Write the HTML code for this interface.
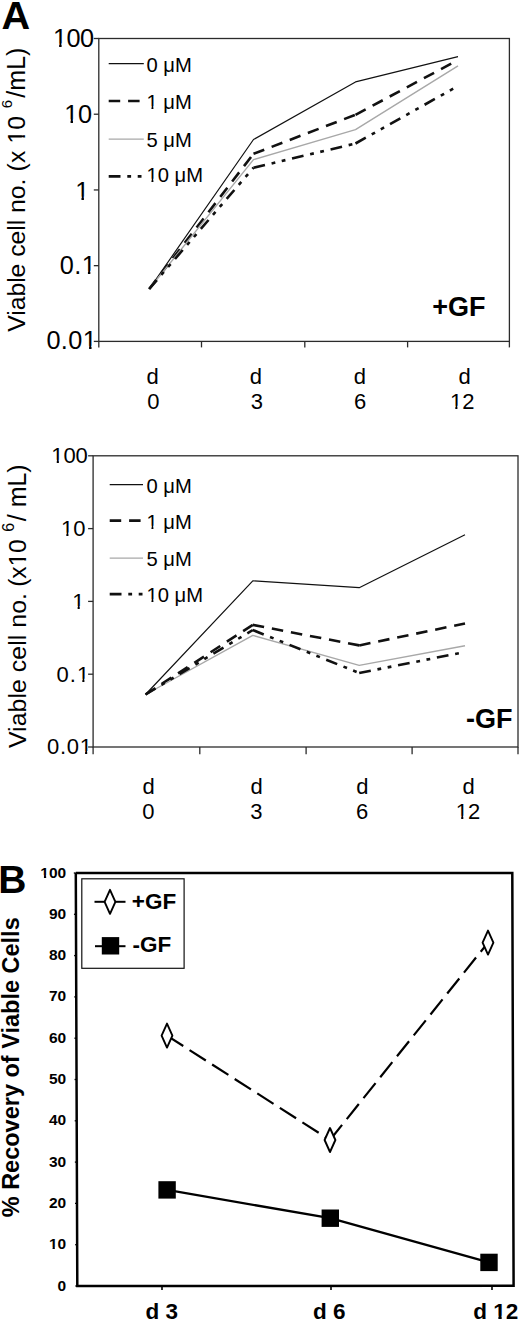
<!DOCTYPE html><html><head><meta charset="utf-8"><style>html,body{margin:0;padding:0;background:#fff;}svg{display:block;}</style></head><body><svg width="520" height="1322" viewBox="0 0 520 1322" font-family='"Liberation Sans", sans-serif'>
<rect width="520" height="1322" fill="#fff"/>
<text x="1.41" y="28.69" font-size="39.7" text-anchor="start" font-weight="bold" fill="#000" >A</text>
<rect x="98.8" y="38.5" width="410.6" height="302.9" fill="none" stroke="#2b2b2b" stroke-width="1.3"/>
<line x1="93.8" y1="38.5" x2="98.8" y2="38.5" stroke="#2b2b2b" stroke-width="1.3" />
<clipPath id="c1"><path clip-rule="evenodd" d="M-2000,-2000H3000V3000H-2000Z M52.9,43.15H59.15V47.46H52.9Z M61.57,43.15H66.96V47.46H61.57Z"/></clipPath>
<text x="52.9" y="46.7" font-size="25.3" text-anchor="start" letter-spacing="-0.47" fill="#000" clip-path="url(#c1)" >100</text>
<line x1="93.8" y1="114.22" x2="98.8" y2="114.22" stroke="#2b2b2b" stroke-width="1.3" />
<clipPath id="c2"><path clip-rule="evenodd" d="M-2000,-2000H3000V3000H-2000Z M64.3,119.25H70.55V123.56H64.3Z M72.97,119.25H78.36V123.56H72.97Z"/></clipPath>
<text x="64.3" y="122.8" font-size="25.3" text-anchor="start" letter-spacing="-0.43" fill="#000" clip-path="url(#c2)" >10</text>
<line x1="93.8" y1="189.95" x2="98.8" y2="189.95" stroke="#2b2b2b" stroke-width="1.3" />
<clipPath id="c3"><path clip-rule="evenodd" d="M-2000,-2000H3000V3000H-2000Z M75.23,196.45H81.48V200.76H75.23Z M83.91,196.45H89.3V200.76H83.91Z"/></clipPath>
<text x="75.23" y="200" font-size="25.3" text-anchor="start" fill="#000" clip-path="url(#c3)" >1</text>
<line x1="93.8" y1="265.67" x2="98.8" y2="265.67" stroke="#2b2b2b" stroke-width="1.3" />
<clipPath id="c4"><path clip-rule="evenodd" d="M-2000,-2000H3000V3000H-2000Z M81.67,270.85H87.92V275.16H81.67Z M90.35,270.85H95.74V275.16H90.35Z"/></clipPath>
<text x="59.69" y="274.4" font-size="25.3" text-anchor="start" letter-spacing="0.44" fill="#000" clip-path="url(#c4)" >0.1</text>
<line x1="93.8" y1="341.4" x2="98.8" y2="341.4" stroke="#2b2b2b" stroke-width="1.3" />
<clipPath id="c5"><path clip-rule="evenodd" d="M-2000,-2000H3000V3000H-2000Z M82.84,345.85H89.09V350.16H82.84Z M91.52,345.85H96.91V350.16H91.52Z"/></clipPath>
<text x="46.39" y="349.4" font-size="25.3" text-anchor="start" letter-spacing="0.43" fill="#000" clip-path="url(#c5)" >0.01</text>
<line x1="98.8" y1="341.4" x2="98.8" y2="347.4" stroke="#2b2b2b" stroke-width="1.3" />
<line x1="201.5" y1="341.4" x2="201.5" y2="347.4" stroke="#2b2b2b" stroke-width="1.3" />
<line x1="304.8" y1="341.4" x2="304.8" y2="347.4" stroke="#2b2b2b" stroke-width="1.3" />
<line x1="407.6" y1="341.4" x2="407.6" y2="347.4" stroke="#2b2b2b" stroke-width="1.3" />
<line x1="509.4" y1="341.4" x2="509.4" y2="347.4" stroke="#2b2b2b" stroke-width="1.3" />
<polyline points="149.2,289 253.5,139.5 355.5,81.9 458,56.6" fill="none" stroke="#111" stroke-width="1.2" stroke-linecap="butt" stroke-linejoin="round"/>
<line x1="149.2" y1="289" x2="253.5" y2="153.8" stroke="#111" stroke-width="2.6" stroke-linecap="butt" stroke-dasharray="11.5 7.9"/>
<line x1="253.5" y1="153.8" x2="355.5" y2="114.8" stroke="#111" stroke-width="2.6" stroke-linecap="butt" stroke-dasharray="11.5 7.9"/>
<line x1="355.5" y1="114.8" x2="458" y2="60" stroke="#111" stroke-width="2.6" stroke-linecap="butt" stroke-dasharray="11.5 7.9"/>
<polyline points="149.2,289 253.5,159.6 355.5,129.7 458,65.9" fill="none" stroke="#a8a8a8" stroke-width="1.4" stroke-linecap="butt" stroke-linejoin="round"/>
<line x1="149.2" y1="289" x2="253.5" y2="167.7" stroke="#111" stroke-width="2.6" stroke-linecap="butt" stroke-dasharray="11.8 6.8 3.8 6.6 3.8 6.8"/>
<line x1="253.5" y1="167.7" x2="355.5" y2="143.5" stroke="#111" stroke-width="2.6" stroke-linecap="butt" stroke-dasharray="11.8 6.8 3.8 6.6 3.8 6.8"/>
<line x1="355.5" y1="143.5" x2="458" y2="86" stroke="#111" stroke-width="2.6" stroke-linecap="butt" stroke-dasharray="11.8 6.8 3.8 6.6 3.8 6.8"/>
<polyline points="108.7,63.7 143.8,63.7" fill="none" stroke="#111" stroke-width="1.2" stroke-linecap="butt" stroke-linejoin="round"/>
<text x="146.5" y="72" font-size="20.2" text-anchor="start" fill="#000" >0 &#956;M</text>
<line x1="108.7" y1="101" x2="143.8" y2="101" stroke="#111" stroke-width="2.6" stroke-linecap="butt" stroke-dasharray="11.5 7.9"/>
<clipPath id="c6"><path clip-rule="evenodd" d="M-2000,-2000H3000V3000H-2000Z M146.5,106.17H151.49V109.61H146.5Z M153.43,106.17H157.73V109.61H153.43Z"/></clipPath>
<text x="146.5" y="109" font-size="20.2" text-anchor="start" fill="#000" clip-path="url(#c6)" >1 &#956;M</text>
<polyline points="108.7,139.1 143.8,139.1" fill="none" stroke="#a8a8a8" stroke-width="1.4" stroke-linecap="butt" stroke-linejoin="round"/>
<text x="146.5" y="147.4" font-size="20.2" text-anchor="start" fill="#000" >5 &#956;M</text>
<line x1="108.7" y1="176.4" x2="143.8" y2="176.4" stroke="#111" stroke-width="2.6" stroke-linecap="butt" stroke-dasharray="11.8 6.8 3.8 6.6 3.8 6.8"/>
<clipPath id="c7"><path clip-rule="evenodd" d="M-2000,-2000H3000V3000H-2000Z M146.5,178.87H151.49V182.31H146.5Z M153.43,178.87H157.73V182.31H153.43Z"/></clipPath>
<text x="146.5" y="181.7" font-size="20.2" text-anchor="start" fill="#000" clip-path="url(#c7)" >10 &#956;M</text>
<text x="146.62" y="383.85" font-size="22" text-anchor="start" fill="#000" >d</text>
<text x="147.32" y="408.75" font-size="22" text-anchor="start" fill="#000" >0</text>
<text x="249.87" y="383.85" font-size="22" text-anchor="start" fill="#000" >d</text>
<text x="250.85" y="408.75" font-size="22" text-anchor="start" fill="#000" >3</text>
<text x="353.81" y="383.85" font-size="22" text-anchor="start" fill="#000" >d</text>
<text x="354.01" y="408.75" font-size="22" text-anchor="start" fill="#000" >6</text>
<text x="458.62" y="383.85" font-size="22" text-anchor="start" fill="#000" >d</text>
<clipPath id="c8"><path clip-rule="evenodd" d="M-2000,-2000H3000V3000H-2000Z M449.9,405.67H455.33V409.41H449.9Z M457.44,405.67H462.13V409.41H457.44Z"/></clipPath>
<text x="449.9" y="408.75" font-size="22" text-anchor="start" fill="#000" clip-path="url(#c8)" >12</text>
<text x="432.19" y="315.73" font-size="27" text-anchor="start" font-weight="bold" fill="#000" >+GF</text>
<text transform="rotate(-90)" x="-331.82" y="25.3" font-size="24.8" letter-spacing="-0.06" fill="#000">Viable cell no.</text>
<clipPath id="c9"><path clip-rule="evenodd" d="M-2000,-2000H3000V3000H-2000Z M-143.7,21.83H-137.58V26.04H-143.7Z M-135.2,21.83H-129.92V26.04H-135.2Z"/></clipPath>
<text transform="rotate(-90)" x="-171.45" y="25.3" font-size="24.8" letter-spacing="0.07" fill="#000" clip-path="url(#c9)">(x 10</text>
<text transform="rotate(-90)" x="-108.19" y="11.7" font-size="15" fill="#000">6</text>
<text transform="rotate(-90)" x="-97.64" y="25.3" font-size="25" fill="#000">/mL)</text>
<rect x="93.1" y="455.8" width="424.9" height="291.2" fill="none" stroke="#2b2b2b" stroke-width="1.3"/>
<line x1="88.1" y1="455.8" x2="93.1" y2="455.8" stroke="#2b2b2b" stroke-width="1.3" />
<clipPath id="c10"><path clip-rule="evenodd" d="M-2000,-2000H3000V3000H-2000Z M51.31,459.78H56.74V463.52H51.31Z M58.86,459.78H63.54V463.52H58.86Z"/></clipPath>
<text x="51.31" y="462.86" font-size="22" text-anchor="start" letter-spacing="-0.08" fill="#000" clip-path="url(#c10)" >100</text>
<line x1="88.1" y1="528.6" x2="93.1" y2="528.6" stroke="#2b2b2b" stroke-width="1.3" />
<clipPath id="c11"><path clip-rule="evenodd" d="M-2000,-2000H3000V3000H-2000Z M60.91,532.48H66.34V536.22H60.91Z M68.46,532.48H73.14V536.22H68.46Z"/></clipPath>
<text x="60.91" y="535.56" font-size="22" text-anchor="start" letter-spacing="-0.01" fill="#000" clip-path="url(#c11)" >10</text>
<line x1="88.1" y1="601.4" x2="93.1" y2="601.4" stroke="#2b2b2b" stroke-width="1.3" />
<clipPath id="c12"><path clip-rule="evenodd" d="M-2000,-2000H3000V3000H-2000Z M72.17,605.98H77.6V609.72H72.17Z M79.71,605.98H84.4V609.72H79.71Z"/></clipPath>
<text x="72.17" y="609.06" font-size="22" text-anchor="start" fill="#000" clip-path="url(#c12)" >1</text>
<line x1="88.1" y1="674.2" x2="93.1" y2="674.2" stroke="#2b2b2b" stroke-width="1.3" />
<clipPath id="c13"><path clip-rule="evenodd" d="M-2000,-2000H3000V3000H-2000Z M76.9,678.78H82.33V682.52H76.9Z M84.44,678.78H89.13V682.52H84.44Z"/></clipPath>
<text x="56.62" y="681.86" font-size="22" text-anchor="start" letter-spacing="0.97" fill="#000" clip-path="url(#c13)" >0.1</text>
<line x1="88.1" y1="747" x2="93.1" y2="747" stroke="#2b2b2b" stroke-width="1.3" />
<clipPath id="c14"><path clip-rule="evenodd" d="M-2000,-2000H3000V3000H-2000Z M79.67,750.98H85.1V754.72H79.67Z M87.21,750.98H91.9V754.72H87.21Z"/></clipPath>
<text x="47.12" y="754.06" font-size="22" text-anchor="start" letter-spacing="0.66" fill="#000" clip-path="url(#c14)" >0.01</text>
<line x1="93.1" y1="747" x2="93.1" y2="754.3" stroke="#2b2b2b" stroke-width="1.3" />
<line x1="199.8" y1="747" x2="199.8" y2="754.3" stroke="#2b2b2b" stroke-width="1.3" />
<line x1="306.1" y1="747" x2="306.1" y2="754.3" stroke="#2b2b2b" stroke-width="1.3" />
<line x1="412.1" y1="747" x2="412.1" y2="754.3" stroke="#2b2b2b" stroke-width="1.3" />
<line x1="518" y1="747" x2="518" y2="754.3" stroke="#2b2b2b" stroke-width="1.3" />
<polyline points="145.5,694.5 252.8,580.8 359.2,587.7 465,534.8" fill="none" stroke="#111" stroke-width="1.2" stroke-linecap="butt" stroke-linejoin="round"/>
<line x1="145.5" y1="694.5" x2="252.8" y2="624.9" stroke="#111" stroke-width="2.6" stroke-linecap="butt" stroke-dasharray="11.5 7.9"/>
<line x1="252.8" y1="624.9" x2="359.2" y2="645.4" stroke="#111" stroke-width="2.6" stroke-linecap="butt" stroke-dasharray="11.5 7.9"/>
<line x1="359.2" y1="645.4" x2="465" y2="623.5" stroke="#111" stroke-width="2.6" stroke-linecap="butt" stroke-dasharray="11.5 7.9"/>
<polyline points="145.5,694.5 252.8,635.4 359.2,665.4 465,645.7" fill="none" stroke="#a8a8a8" stroke-width="1.4" stroke-linecap="butt" stroke-linejoin="round"/>
<line x1="145.5" y1="694.5" x2="252.8" y2="630" stroke="#111" stroke-width="2.6" stroke-linecap="butt" stroke-dasharray="11.8 6.8 3.8 6.6 3.8 6.8"/>
<line x1="252.8" y1="630" x2="359.2" y2="673" stroke="#111" stroke-width="2.6" stroke-linecap="butt" stroke-dasharray="11.8 6.8 3.8 6.6 3.8 6.8"/>
<line x1="359.2" y1="673" x2="465" y2="652" stroke="#111" stroke-width="2.6" stroke-linecap="butt" stroke-dasharray="11.8 6.8 3.8 6.6 3.8 6.8"/>
<polyline points="109.7,484.7 143,484.7" fill="none" stroke="#111" stroke-width="1.2" stroke-linecap="butt" stroke-linejoin="round"/>
<text x="146.5" y="492.6" font-size="20.2" text-anchor="start" fill="#000" >0 &#956;M</text>
<line x1="109.7" y1="520.6" x2="143" y2="520.6" stroke="#111" stroke-width="2.6" stroke-linecap="butt" stroke-dasharray="11.5 7.9"/>
<clipPath id="c15"><path clip-rule="evenodd" d="M-2000,-2000H3000V3000H-2000Z M146.5,525.67H151.49V529.11H146.5Z M153.43,525.67H157.73V529.11H153.43Z"/></clipPath>
<text x="146.5" y="528.5" font-size="20.2" text-anchor="start" fill="#000" clip-path="url(#c15)" >1 &#956;M</text>
<polyline points="109.7,558.1 143,558.1" fill="none" stroke="#a8a8a8" stroke-width="1.4" stroke-linecap="butt" stroke-linejoin="round"/>
<text x="146.5" y="566" font-size="20.2" text-anchor="start" fill="#000" >5 &#956;M</text>
<line x1="109.7" y1="594.1" x2="143" y2="594.1" stroke="#111" stroke-width="2.6" stroke-linecap="butt" stroke-dasharray="11.8 6.8 3.8 6.6 3.8 6.8"/>
<clipPath id="c16"><path clip-rule="evenodd" d="M-2000,-2000H3000V3000H-2000Z M146.5,599.17H151.49V602.61H146.5Z M153.43,599.17H157.73V602.61H153.43Z"/></clipPath>
<text x="146.5" y="602" font-size="20.2" text-anchor="start" fill="#000" clip-path="url(#c16)" >10 &#956;M</text>
<text x="142.62" y="793.75" font-size="22" text-anchor="start" fill="#000" >d</text>
<text x="142.37" y="818.75" font-size="22" text-anchor="start" fill="#000" >0</text>
<text x="250.51" y="793.75" font-size="22" text-anchor="start" fill="#000" >d</text>
<text x="250.35" y="818.75" font-size="22" text-anchor="start" fill="#000" >3</text>
<text x="356.22" y="793.75" font-size="22" text-anchor="start" fill="#000" >d</text>
<text x="356.11" y="818.75" font-size="22" text-anchor="start" fill="#000" >6</text>
<text x="462.42" y="793.75" font-size="22" text-anchor="start" fill="#000" >d</text>
<clipPath id="c17"><path clip-rule="evenodd" d="M-2000,-2000H3000V3000H-2000Z M455.8,815.66H461.23V819.4H455.8Z M463.34,815.66H468.03V819.4H463.34Z"/></clipPath>
<text x="455.8" y="818.75" font-size="22" text-anchor="start" fill="#000" clip-path="url(#c17)" >12</text>
<text x="465.9" y="728.03" font-size="27" text-anchor="start" font-weight="bold" fill="#000" >-GF</text>
<text transform="rotate(-90)" x="-748.12" y="26.3" font-size="24.8" letter-spacing="0.08" fill="#000">Viable cell no.</text>
<clipPath id="c18"><path clip-rule="evenodd" d="M-2000,-2000H3000V3000H-2000Z M-566.56,22.83H-560.44V27.04H-566.56Z M-558.06,22.83H-552.77V27.04H-558.06Z"/></clipPath>
<text transform="rotate(-90)" x="-586.85" y="26.3" font-size="24.8" letter-spacing="-0.19" fill="#000" clip-path="url(#c18)">(x10</text>
<text transform="rotate(-90)" x="-531.7" y="13.6" font-size="16" fill="#000">6</text>
<text transform="rotate(-90)" x="-521.27" y="26.3" font-size="25" fill="#000">/ mL)</text>
<text x="-1.68" y="893.41" font-size="39" text-anchor="start" font-weight="bold" fill="#000" >B</text>
<polyline points="75.8,873.1 512.3,873 513.6,1285.7 77.3,1286 75.8,873.1" fill="none" stroke="#000" stroke-width="2.5" stroke-linejoin="miter"/>
<line x1="75.3" y1="1286" x2="77.3" y2="1286" stroke="#000" stroke-width="1.3" />
<text x="57.62" y="1290.53" font-size="15.5" text-anchor="start" font-weight="bold" fill="#000" >0</text>
<line x1="75.15" y1="1244.7" x2="77.15" y2="1244.7" stroke="#000" stroke-width="1.3" />
<clipPath id="c19"><path clip-rule="evenodd" d="M-2000,-2000H3000V3000H-2000Z M49.01,1246.9H52.56V1249.69H49.01Z M54.81,1246.9H58V1249.69H54.81Z"/></clipPath>
<text x="49.01" y="1249.23" font-size="15.5" text-anchor="start" font-weight="bold" fill="#000" clip-path="url(#c19)" >10</text>
<line x1="75" y1="1203.4" x2="77" y2="1203.4" stroke="#000" stroke-width="1.3" />
<text x="49.01" y="1207.93" font-size="15.5" text-anchor="start" font-weight="bold" fill="#000" >20</text>
<line x1="74.85" y1="1162.1" x2="76.85" y2="1162.1" stroke="#000" stroke-width="1.3" />
<text x="49.01" y="1166.61" font-size="15.5" text-anchor="start" font-weight="bold" fill="#000" >30</text>
<line x1="74.7" y1="1120.8" x2="76.7" y2="1120.8" stroke="#000" stroke-width="1.3" />
<text x="49.01" y="1125.33" font-size="15.5" text-anchor="start" font-weight="bold" fill="#000" >40</text>
<line x1="74.55" y1="1079.5" x2="76.55" y2="1079.5" stroke="#000" stroke-width="1.3" />
<text x="49.01" y="1084.03" font-size="15.5" text-anchor="start" font-weight="bold" fill="#000" >50</text>
<line x1="74.4" y1="1038.2" x2="76.4" y2="1038.2" stroke="#000" stroke-width="1.3" />
<text x="49.01" y="1042.73" font-size="15.5" text-anchor="start" font-weight="bold" fill="#000" >60</text>
<line x1="74.25" y1="996.9" x2="76.25" y2="996.9" stroke="#000" stroke-width="1.3" />
<text x="49.01" y="1001.43" font-size="15.5" text-anchor="start" font-weight="bold" fill="#000" >70</text>
<line x1="74.1" y1="955.6" x2="76.1" y2="955.6" stroke="#000" stroke-width="1.3" />
<text x="49.01" y="960.13" font-size="15.5" text-anchor="start" font-weight="bold" fill="#000" >80</text>
<line x1="73.95" y1="914.3" x2="75.95" y2="914.3" stroke="#000" stroke-width="1.3" />
<text x="49.01" y="918.83" font-size="15.5" text-anchor="start" font-weight="bold" fill="#000" >90</text>
<line x1="73.8" y1="873" x2="75.8" y2="873" stroke="#000" stroke-width="1.3" />
<clipPath id="c20"><path clip-rule="evenodd" d="M-2000,-2000H3000V3000H-2000Z M40.37,875.2H43.92V877.99H40.37Z M46.17,875.2H49.36V877.99H46.17Z"/></clipPath>
<text x="40.37" y="877.53" font-size="15.5" text-anchor="start" font-weight="bold" fill="#000" clip-path="url(#c20)" >100</text>
<line x1="162" y1="1286" x2="162" y2="1290" stroke="#000" stroke-width="1.6" />
<line x1="331" y1="1286" x2="331" y2="1290" stroke="#000" stroke-width="1.6" />
<line x1="492" y1="1286" x2="492" y2="1290" stroke="#000" stroke-width="1.6" />
<text x="145.57" y="1319.11" font-size="22.5" text-anchor="start" font-weight="bold" fill="#000" >d 3</text>
<text x="312.97" y="1319.11" font-size="22.5" text-anchor="start" font-weight="bold" fill="#000" >d 6</text>
<clipPath id="c21"><path clip-rule="evenodd" d="M-2000,-2000H3000V3000H-2000Z M493.25,1315.74H498.4V1319.79H493.25Z M501.66,1315.74H506.3V1319.79H501.66Z"/></clipPath>
<text x="473.25" y="1319.11" font-size="22.5" text-anchor="start" font-weight="bold" fill="#000" clip-path="url(#c21)" >d 12</text>
<text transform="rotate(-90)" x="-1217.29" y="19.3" font-size="23.5" font-weight="bold" fill="#000">% Recovery of Viable Cells</text>
<rect x="81.8" y="878.8" width="102.3" height="89.5" fill="none" stroke="#111" stroke-width="1.2"/>
<line x1="167" y1="1035.6" x2="330" y2="1140" stroke="#000" stroke-width="2.2" stroke-linecap="butt" stroke-dasharray="19.3 7.5"/>
<line x1="330" y1="1140" x2="488" y2="942.6" stroke="#000" stroke-width="2.2" stroke-linecap="butt" stroke-dasharray="19.3 7.5"/>
<path d="M167,1023.6 L172.4,1035.6 L167,1047.6 L161.6,1035.6 Z" fill="#fff" stroke="#000" stroke-width="1.9" stroke-linejoin="round"/>
<path d="M330,1128 L335.4,1140 L330,1152 L324.6,1140 Z" fill="#fff" stroke="#000" stroke-width="1.9" stroke-linejoin="round"/>
<path d="M488,930.6 L493.4,942.6 L488,954.6 L482.6,942.6 Z" fill="#fff" stroke="#000" stroke-width="1.9" stroke-linejoin="round"/>
<polyline points="167.1,1189.9 330.3,1218.2 489,1262.4" fill="none" stroke="#000" stroke-width="2.3" stroke-linecap="butt" stroke-linejoin="round"/>
<rect x="158.4" y="1181.2" width="17.4" height="17.4" fill="#000"/>
<rect x="321.6" y="1209.5" width="17.4" height="17.4" fill="#000"/>
<rect x="480.3" y="1253.7" width="17.4" height="17.4" fill="#000"/>
<line x1="94.5" y1="901.8" x2="125.5" y2="901.8" stroke="#000" stroke-width="2" />
<path d="M110,889.8 L115.4,901.8 L110,913.8 L104.6,901.8 Z" fill="#fff" stroke="#000" stroke-width="1.9" stroke-linejoin="round"/>
<text x="131.84" y="909.07" font-size="22.5" text-anchor="start" font-weight="bold" fill="#000" >+GF</text>
<line x1="95" y1="946.2" x2="125.5" y2="946.2" stroke="#000" stroke-width="2" />
<rect x="101.8" y="937.1" width="17.4" height="17.4" fill="#000"/>
<text x="132.4" y="951.57" font-size="22.5" text-anchor="start" font-weight="bold" fill="#000" >-GF</text>
</svg></body></html>
